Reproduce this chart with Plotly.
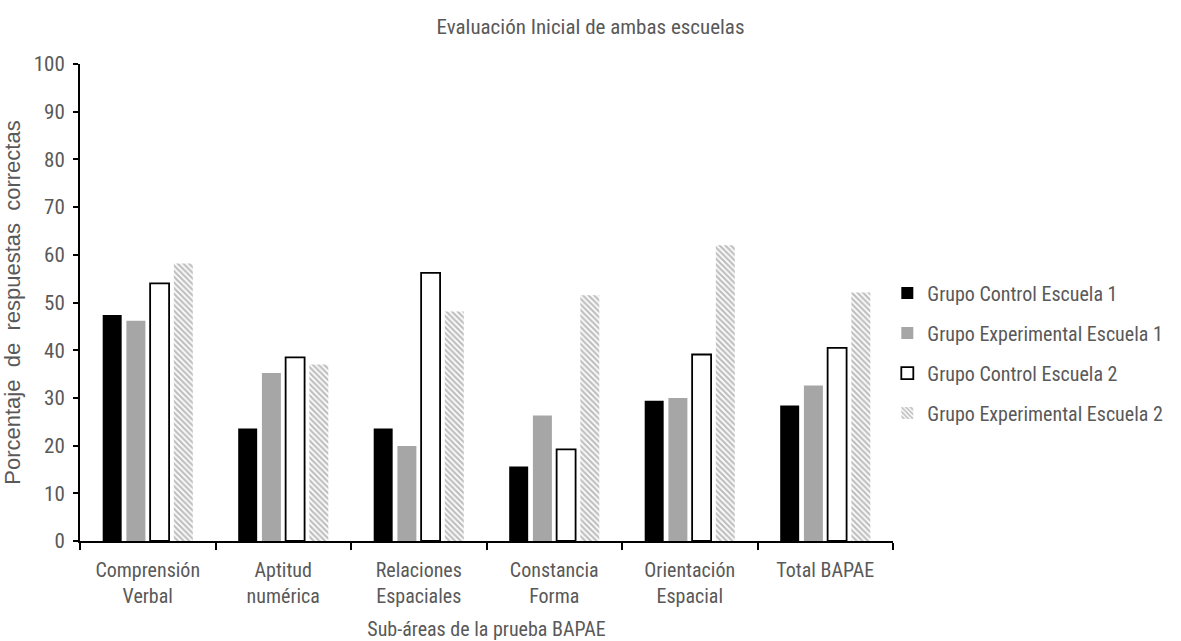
import plotly.graph_objects as go

categories = ["Comprensión<br>Verbal", "Aptitud<br>numérica", "Relaciones<br>Espaciales",
              "Constancia<br>Forma", "Orientación<br>Espacial", "Total BAPAE"]
control_e1 = [47.4, 23.6, 23.6, 15.6, 29.4, 28.4]
experimental_e1 = [46.2, 35.2, 19.9, 26.3, 30.0, 32.6]
control_e2 = [54.0, 38.5, 56.2, 19.2, 39.1, 40.5]
experimental_e2 = [58.2, 37.0, 48.1, 51.5, 62.0, 52.1]
y_ticks = [0, 10, 20, 30, 40, 50, 60, 70, 80, 90, 100]

FONT = "Liberation Sans Narrow, Arial Narrow, Roboto Condensed, sans-serif"
TXT = "#595959"

fig = go.Figure()
fig.add_trace(go.Bar(name="Grupo Control Escuela 1", x=categories, y=control_e1,
                     marker=dict(color="black", line=dict(width=0)), legendgroup="a"))
fig.add_trace(go.Bar(name="Grupo Experimental Escuela 1", x=categories, y=experimental_e1,
                     marker=dict(color="#a6a6a6", line=dict(width=0)), legendgroup="b"))
fig.add_trace(go.Bar(name="Grupo Control Escuela 2", x=categories, y=control_e2,
                     marker=dict(color="white", line=dict(color="black", width=1.8)), legendgroup="c"))
fig.add_trace(go.Bar(name="Grupo Experimental Escuela 2", x=categories, y=experimental_e2,
                     marker=dict(color="white", line=dict(width=0),
                                 pattern=dict(shape="\\", fgcolor="#808080", bgcolor="white",
                                              size=4, solidity=0.55)),
                     legendgroup="d"))

fig.update_layout(
    width=1181, height=641,
    margin=dict(l=80, r=288, t=64, b=100, autoexpand=False),
    paper_bgcolor="white", plot_bgcolor="white",
    barmode="group", bargap=0.3, bargroupgap=0.2,
    font=dict(family=FONT, color=TXT, size=20),
    title=dict(text="Evaluación Inicial de ambas escuelas", x=0.5, xref="container",
               xanchor="center", y=0.958, yanchor="middle",
               font=dict(size=21, color=TXT, family=FONT)),
    legend=dict(x=0.993, y=0.394, xanchor="left", yanchor="middle",
                font=dict(size=20, color=TXT, family=FONT), tracegroupgap=11,
                itemwidth=30, bgcolor="rgba(0,0,0,0)"),
    xaxis=dict(showline=True, linecolor="black", linewidth=2, ticks="outside",
               tickson="boundaries", ticklen=7, tickwidth=2, tickcolor="black",
               ticklabelstandoff=10, automargin=False,
               tickfont=dict(size=20, color=TXT, family=FONT),
               title=dict(text="Sub-áreas de la prueba BAPAE", standoff=17,
                          font=dict(size=20, color=TXT, family=FONT))),
    yaxis=dict(range=[0, 100], tickvals=y_ticks, showline=True, linecolor="black",
               linewidth=2, ticks="outside", ticklen=5, tickwidth=2, tickcolor="black",
               showgrid=False, zeroline=False, ticklabelstandoff=4, automargin=False,
               tickfont=dict(size=21, color=TXT, family=FONT),
               title=dict(text="Porcentaje  de  respuestas  correctas", standoff=9,
                          font=dict(size=22, color=TXT,
                                    family="Liberation Sans, Arial, sans-serif"))),
)

fig.write_html("out.html")
